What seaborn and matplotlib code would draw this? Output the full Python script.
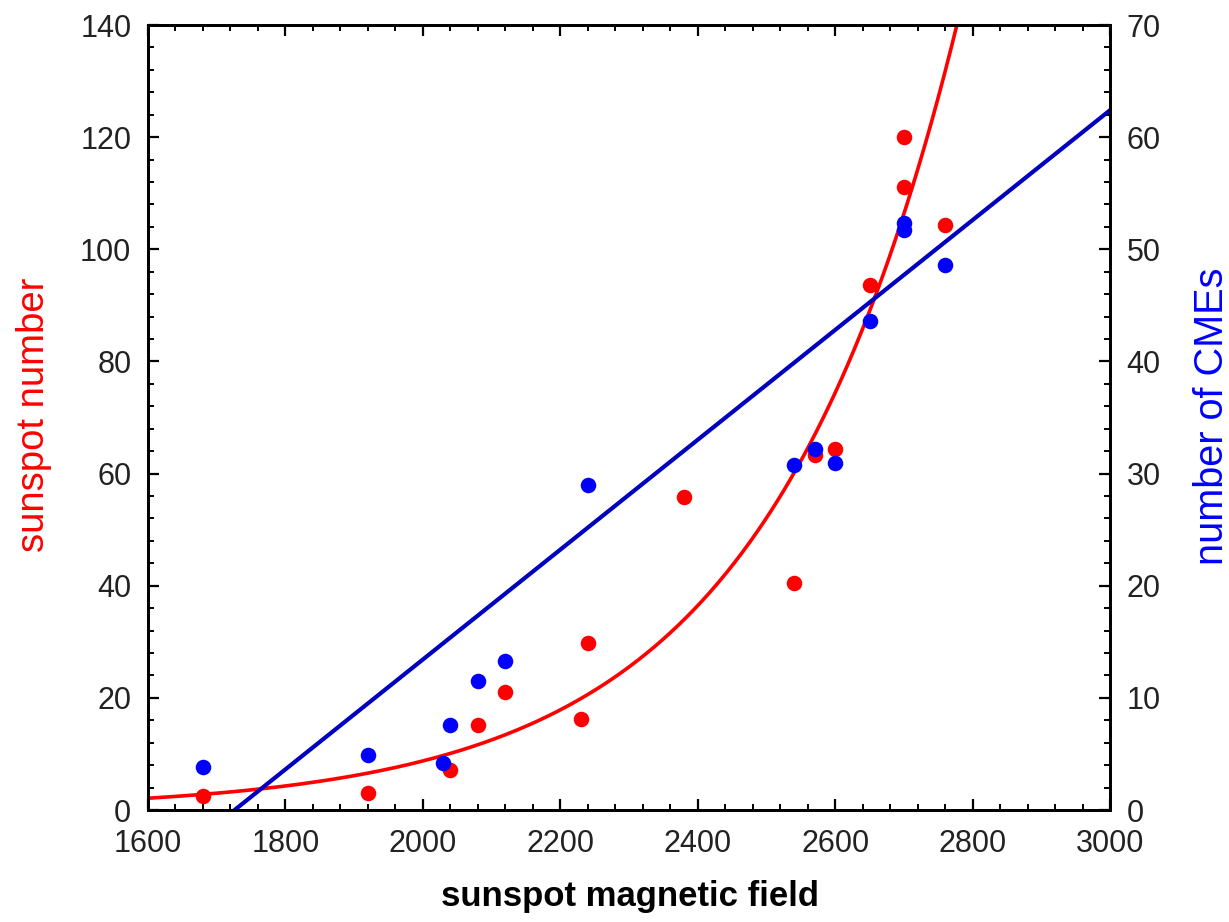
import numpy as np
import pandas as pd
import matplotlib
matplotlib.use("Agg")
import matplotlib.pyplot as plt
from matplotlib.ticker import MultipleLocator
import seaborn as sns

# ---- data ----
ssn_field = [1680, 1920, 2040, 2080, 2120, 2230, 2240, 2380, 2540, 2570, 2600, 2650, 2700, 2700, 2760]
ssn_value = [2.5, 3.0, 7.1, 15.1, 21.1, 16.2, 29.7, 55.8, 40.4, 63.3, 64.4, 93.6, 120.1, 111.1, 104.3]

cme_field = [1680, 1920, 2030, 2040, 2080, 2120, 2240, 2540, 2570, 2600, 2650, 2700, 2700, 2760]
cme_value = [3.8, 4.9, 4.2, 7.6, 11.5, 13.3, 29.0, 30.8, 32.2, 30.9, 43.6, 52.3, 51.7, 48.6]

# fitted curves (parameters)
ssn_fit_a, ssn_fit_b = 0.006962, 0.003568      # y = a * exp(b x)
cme_fit_slope, cme_fit_icpt = 0.04898, -84.54  # y = slope x + icpt

x_ticks = [1600, 1800, 2000, 2200, 2400, 2600, 2800, 3000]
left_ticks = [0, 20, 40, 60, 80, 100, 120, 140]
right_ticks = [0, 10, 20, 30, 40, 50, 60, 70]

RED = "#FF0000"
BLUE = "#0000FF"
LINE_BLUE = "#0000C0"

sns.set_theme(style="white")
plt.rcParams["font.family"] = ["Liberation Sans", "DejaVu Sans"]

fig = plt.figure(figsize=(12.29, 9.22), dpi=100)
ax = fig.add_axes([148/1229, 1 - 810/922, (1110-148)/1229, (810-25)/922])
ax2 = ax.twinx()

grid = np.linspace(1600, 3000, 600)
fit_df = pd.DataFrame({
    "x": grid,
    "ssn": ssn_fit_a * np.exp(ssn_fit_b * grid),
    "cme": cme_fit_slope * grid + cme_fit_icpt,
})
ssn_df = pd.DataFrame({"x": ssn_field, "y": ssn_value})
cme_df = pd.DataFrame({"x": cme_field, "y": cme_value})

sns.lineplot(data=fit_df, x="x", y="ssn", ax=ax, color=RED, linewidth=2.6, zorder=2)
sns.scatterplot(data=ssn_df, x="x", y="y", ax=ax, color=RED, s=125, linewidth=0, zorder=3)

sns.lineplot(data=fit_df, x="x", y="cme", ax=ax2, color=LINE_BLUE, linewidth=3.0, zorder=2)
sns.scatterplot(data=cme_df, x="x", y="y", ax=ax2, color=BLUE, s=125, linewidth=0, zorder=3)

ax.set_xlim(1600, 3000)
ax.set_ylim(0, 140)
ax2.set_ylim(0, 70)

ax.set_xticks(x_ticks)
ax.set_yticks(left_ticks)
ax2.set_yticks(right_ticks)
ax.xaxis.set_minor_locator(MultipleLocator(40))
ax.yaxis.set_minor_locator(MultipleLocator(4))
ax2.yaxis.set_minor_locator(MultipleLocator(2))

ax.tick_params(axis="both", which="both", direction="in", colors="black",
               labelcolor="#222222", labelsize=22)
ax.tick_params(axis="x", which="both", top=True, bottom=True, pad=14)
ax.tick_params(axis="y", which="both", left=True, right=False, pad=12)
ax.tick_params(which="major", length=8, width=1.6)
ax.tick_params(which="minor", length=4.5, width=1.4)
ax2.tick_params(axis="y", which="both", direction="in", right=True, left=False,
                colors="black", labelcolor="#222222", labelsize=22, pad=12)
ax2.tick_params(which="major", length=8, width=1.6)
ax2.tick_params(which="minor", length=4.5, width=1.4)

for a in (ax, ax2):
    for sp in a.spines.values():
        sp.set_visible(True)
        sp.set_color("black")
        sp.set_linewidth(2.0)

ax.set_xlabel("sunspot magnetic field", fontsize=25, fontweight="bold", color="black")
ax.set_ylabel("sunspot number", fontsize=27.5, color=RED)
ax2.set_ylabel("number of CMEs", fontsize=28.5, color=BLUE)
ax.xaxis.set_label_coords((630-148)/962, (810-880)/785)
ax.yaxis.set_label_coords((52-148)/962, 0.5 - (415-417.5)/785)
ax2.yaxis.set_label_coords((1193-148)/962, 0.5 - (416-417.5)/785)

fig.savefig("out.png", dpi=100, facecolor="white")
